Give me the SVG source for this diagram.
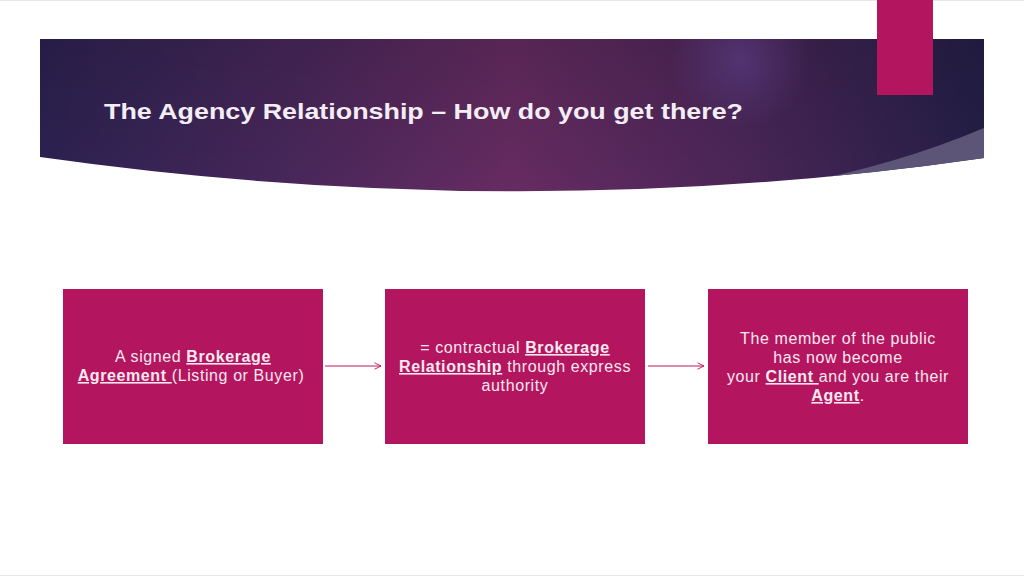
<svg xmlns="http://www.w3.org/2000/svg" width="1024" height="576" viewBox="0 0 1024 576">
  <defs>
    <linearGradient id="bannerGrad" x1="0" y1="0" x2="1" y2="0">
      <stop offset="0" stop-color="#2c2252"/>
      <stop offset="0.25" stop-color="#47275b"/>
      <stop offset="0.5" stop-color="#672c62"/>
      <stop offset="0.75" stop-color="#4a2658"/>
      <stop offset="1" stop-color="#241f48"/>
    </linearGradient>
    <linearGradient id="vShade" x1="0" y1="0" x2="0" y2="1">
      <stop offset="0" stop-color="#000" stop-opacity="0.15"/>
      <stop offset="1" stop-color="#000" stop-opacity="0"/>
    </linearGradient>
    <radialGradient id="glow" cx="740" cy="60" r="70" gradientUnits="userSpaceOnUse">
      <stop offset="0" stop-color="#5a3a80" stop-opacity="0.7"/>
      <stop offset="1" stop-color="#5a3a80" stop-opacity="0"/>
    </radialGradient>
    <marker id="arrow" viewBox="0 0 10 10" refX="9" refY="5" markerWidth="8" markerHeight="8" markerUnits="userSpaceOnUse" orient="auto">
      <path d="M1,1 L9,5 L1,9" fill="none" stroke="#c2185f" stroke-width="1.2"/>
    </marker>
    <clipPath id="bannerClip">
      <path d="M40,39 H984 V158 Q520,225 40,157 Z"/>
    </clipPath>
  </defs>
  <style>
    .box { fill: #b3155f; }
    .btxt { font-family: "Liberation Sans", Arial, sans-serif; font-size: 16px; letter-spacing: 0.6px; fill: #f8e8f0; text-anchor: middle; }
    .b { font-weight: bold; text-decoration: underline; }
    .conn { stroke: #c2185f; stroke-width: 1.2; fill: none; }
  </style>
  <rect width="1024" height="576" fill="#ffffff"/>
  <line x1="0" y1="0.5" x2="1024" y2="0.5" stroke="#e6e6e6"/>
  <line x1="0" y1="575.5" x2="1024" y2="575.5" stroke="#e6e6e6"/>

  <g id="banner">
    <path d="M40,39 H984 V158 Q520,225 40,157 Z" fill="url(#bannerGrad)"/>
    <g clip-path="url(#bannerClip)">
      <rect x="40" y="39" width="944" height="160" fill="url(#vShade)"/>
      <rect x="640" y="0" width="200" height="140" fill="url(#glow)"/>
      <path d="M984,128 Q870,176 740,192 L984,192 Z" fill="#5d5578"/>
    </g>
    <text x="104" y="119" font-family="Liberation Sans, Arial, sans-serif" font-size="22" font-weight="bold" fill="#f2eef4" textLength="639" lengthAdjust="spacingAndGlyphs">The Agency Relationship – How do you get there?</text>
  </g>

  <g id="accent">
    <rect x="877" y="0" width="56" height="95" fill="#b3155f"/>
  </g>

  <g id="node1">
    <rect class="box" x="63" y="289" width="260" height="155"/>
    <text class="btxt" x="193" y="362">A signed <tspan class="b">Brokerage</tspan></text>
    <text class="btxt" x="191" y="381"><tspan class="b">Agreement </tspan>(Listing or Buyer)</text>
  </g>

  <g id="node2">
    <rect class="box" x="385" y="289" width="260" height="155"/>
    <text class="btxt" x="515" y="353">= contractual <tspan class="b">Brokerage</tspan></text>
    <text class="btxt" x="515" y="372"><tspan class="b">Relationship</tspan> through express</text>
    <text class="btxt" x="515" y="391">authority</text>
  </g>

  <g id="node3">
    <rect class="box" x="708" y="289" width="260" height="155"/>
    <text class="btxt" x="838" y="344">The member of the public</text>
    <text class="btxt" x="838" y="363">has now become</text>
    <text class="btxt" x="838" y="382">your <tspan class="b">Client </tspan>and you are their</text>
    <text class="btxt" x="838" y="401"><tspan class="b">Agent</tspan>.</text>
  </g>

  <g id="connectors">
    <line class="conn" x1="325" y1="366" x2="381" y2="366" marker-end="url(#arrow)"/>
    <line class="conn" x1="648" y1="366" x2="704" y2="366" marker-end="url(#arrow)"/>
  </g>
</svg>
